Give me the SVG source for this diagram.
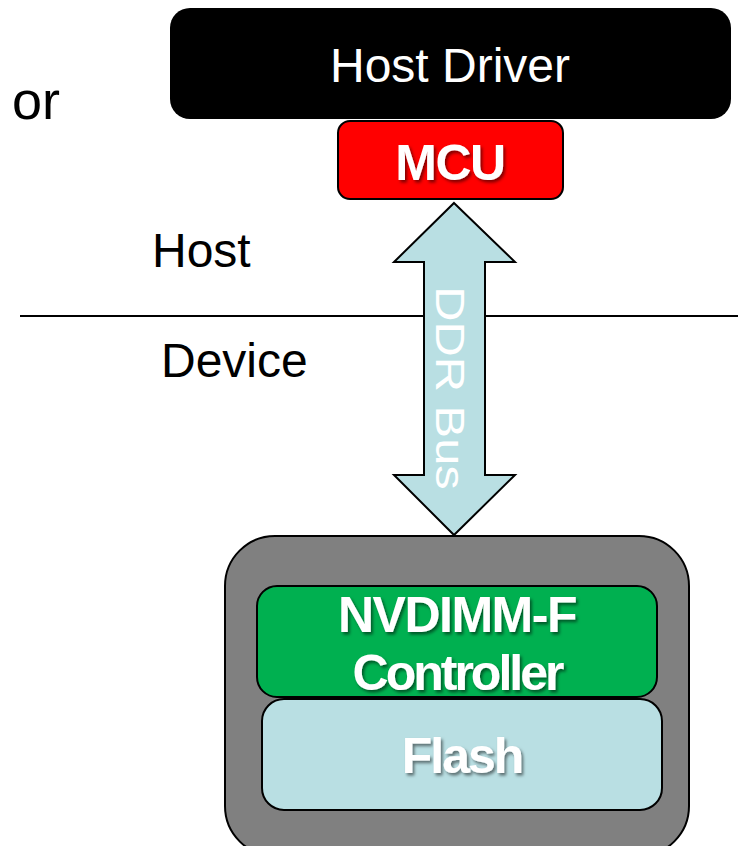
<svg xmlns="http://www.w3.org/2000/svg" width="740" height="846" viewBox="0 0 740 846">
<defs>
<style>
.lbl{font-family:"Liberation Sans",Arial,sans-serif;font-size:48px;fill:#000}
.bold{font-family:"Liberation Sans",Arial,sans-serif;font-weight:bold;font-size:50px;fill:#fff;text-anchor:middle}
.box{stroke:#000;stroke-width:2}
</style>
<filter id="sh" x="-10%" y="-20%" width="130%" height="150%">
<feDropShadow dx="2" dy="2.5" stdDeviation="1.5" flood-color="#000" flood-opacity="0.5"/>
</filter>
</defs>
<rect width="740" height="846" fill="#fff"/>
<text class="lbl" x="12" y="119" style="font-size:54px">or</text>
<text class="lbl" x="152" y="267">Host</text>
<text class="lbl" x="161" y="377">Device</text>
<line x1="20" y1="316" x2="738" y2="316" stroke="#000" stroke-width="2"/>
<g id="host-driver">
<rect x="170" y="8" width="561" height="111" rx="20" fill="#000"/>
<text x="450" y="82" style="font-family:'Liberation Sans',Arial,sans-serif;font-size:48px;fill:#fff;text-anchor:middle">Host Driver</text>
</g>
<g id="mcu">
<rect class="box" x="338" y="121" width="225" height="78" rx="12" fill="#ff0000"/>
<text class="bold" x="450" y="180" style="font-size:50px;letter-spacing:-1.5px" filter="url(#sh)">MCU</text>
</g>
<g id="connectors">
<polygon class="box" points="454,203 515,262 485,262 485,475 515,475 454,535 394,475 424,475 424,262 394,262" fill="#b9dfe3" stroke-linejoin="miter"/>
<text transform="translate(436,388) rotate(90) scale(1.22,1)" style="font-family:'Liberation Sans',Arial,sans-serif;font-size:40px;fill:#fff;text-anchor:middle">DDR Bus</text>
</g>
<g id="nvdimm">
<rect class="box" x="225" y="536" width="464" height="320" rx="50" fill="#808080"/>
<g id="controller">
<rect class="box" x="257" y="586" width="400" height="111" rx="20" fill="#00b050"/>
<text class="bold" x="457" y="632" style="letter-spacing:-1.5px" filter="url(#sh)">NVDIMM-F</text>
<text class="bold" x="457" y="690" style="letter-spacing:-3px" filter="url(#sh)">Controller</text>
</g>
<g id="flash">
<rect class="box" x="262" y="699" width="400" height="111" rx="22" fill="#b9dfe3"/>
<text class="bold" x="462" y="773" style="letter-spacing:-2px" filter="url(#sh)">Flash</text>
</g>
</g>
</svg>
